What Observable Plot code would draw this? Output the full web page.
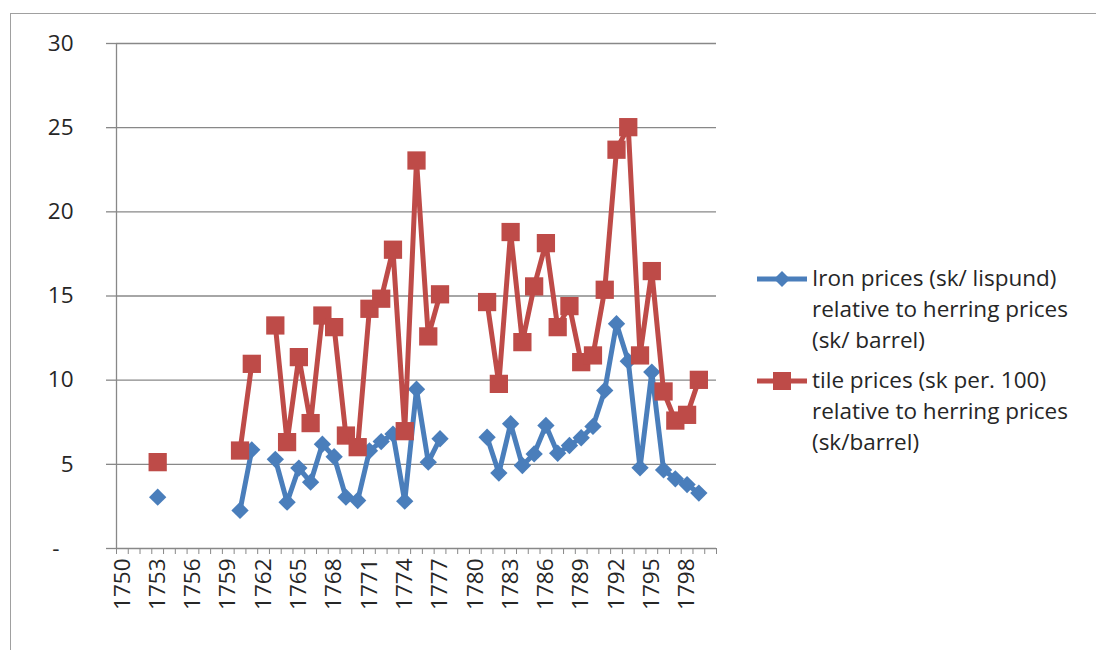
<!DOCTYPE html>
<html>
<head>
<meta charset="utf-8">
<script src="https://cdn.jsdelivr.net/npm/d3@7"></script>
<script src="https://cdn.jsdelivr.net/npm/@observablehq/plot@0.6"></script>
<style>
  body { margin: 0; background: #fff; font-family: "Open Sans", Lato, sans-serif; }
  #frame { position: absolute; left: 10px; top: 13px; width: 1100px; height: 700px;
           border-top: 1px solid #a0a0a0; border-left: 1px solid #a0a0a0; }
  #chart { position: absolute; left: 0; top: 0; }
  #legend { position: absolute; left: 757px; top: 262px; font-size: 22.5px; color: #262626; line-height: 31px; }
  .item { display: flex; align-items: flex-start; margin-bottom: 9px; }
  .item svg { flex: none; }
</style>
</head>
<body>
<div id="frame"></div>
<div id="chart"></div>
<div id="legend"></div>
<script>
const years = d3.range(1750, 1801);
const labelYears = [1750,1753,1756,1759,1762,1765,1768,1771,1774,1777,1780,1783,1786,1789,1792,1795,1798];
const yTicks = [0, 5, 10, 15, 20, 25, 30];
const legendLines = [
  ["Iron prices (sk/ lispund)", "relative to herring prices", "(sk/ barrel)"],
  ["tile prices (sk per. 100)", "relative to herring prices", "(sk/barrel)"]
];
// 1750 ... 1800
const iron = [
  null, null, null, 3.05, null, null, null, null, null, null,
  2.26, 5.86, null, 5.30, 2.75, 4.78, 3.94, 6.20, 5.45, 3.05,
  2.85, 5.80, 6.35, 6.80, 2.81, 9.46, 5.13, 6.52, null, null,
  null, 6.61, 4.48, 7.41, 4.93, 5.62, 7.31, 5.66, 6.12, 6.58,
  7.25, 9.39, 13.35, 11.13, 4.79, 10.48, 4.67, 4.14, 3.80, 3.29,
  null
];
const tile = [
  null, null, null, 5.13, null, null, null, null, null, null,
  5.82, 10.97, null, 13.25, 6.32, 11.37, 7.45, 13.84, 13.15, 6.71,
  6.02, 14.24, 14.84, 17.75, 6.97, 23.05, 12.60, 15.10, null, null,
  null, 14.64, 9.78, 18.80, 12.26, 15.57, 18.14, 13.15, 14.40, 11.07,
  11.47, 15.37, 23.69, 25.03, 11.47, 16.48, 9.33, 7.60, 7.94, 10.02,
  null
];
const colors = ["#4A7EBB", "#BE4B48"];

const ironData = years.map((y, i) => ({year: y, value: iron[i]}));
const tileData = years.map((y, i) => ({year: y, value: tile[i]}));
const boundaries = years.map(y => y - 0.5).concat([years[years.length - 1] + 0.5]);

const fontStack = "'Open Sans', Lato, sans-serif";
const plot = Plot.plot({
  width: 740,
  height: 650,
  marginLeft: 116,
  marginRight: 24,
  marginTop: 43,
  marginBottom: 102,
  style: {fontFamily: fontStack, fontSize: "22.5px", color: "#262626", background: "transparent", overflow: "visible"},
  x: {type: "linear", domain: [1749.5, 1800.5]},
  y: {domain: [0, 30]},
  marks: [
    Plot.gridY(yTicks, {stroke: "#888888", strokeOpacity: 1, strokeWidth: 1.3}),
    Plot.axisY(yTicks.filter(d => d > 0), {tickSize: 10, stroke: "#888888", strokeWidth: 1.3, tickPadding: 33, tickFormat: d => String(d), fill: "#262626", label: null}),
    Plot.axisY([0], {tickSize: 10, stroke: "#888888", strokeWidth: 1.3, tickPadding: 47, tickFormat: () => "-", fill: "#262626", label: null}),
    Plot.ruleX([1749.5], {stroke: "#888888", strokeWidth: 1.3}),
    Plot.axisX(boundaries, {tickSize: 6, stroke: "#888888", tickFormat: () => "", label: null}),
    Plot.axisX(labelYears, {tickSize: 0, tickRotate: -90, tickPadding: 10, tickFormat: d => String(d), label: null, fill: "#262626"}),
    Plot.line(ironData, {x: "year", y: "value", stroke: colors[0], strokeWidth: 5, strokeLinejoin: "round"}),
    Plot.dot(ironData.filter(d => d.value != null), {x: "year", y: "value", symbol: "diamond2", r: 7.8, fill: colors[0], stroke: "none"}),
    Plot.line(tileData, {x: "year", y: "value", stroke: colors[1], strokeWidth: 5, strokeLinejoin: "round"}),
    Plot.dot(tileData.filter(d => d.value != null), {x: "year", y: "value", symbol: "square", r: 10.3, fill: colors[1], stroke: "none"})
  ]
});
document.getElementById("chart").appendChild(plot);

const legend = document.getElementById("legend");
legendLines.forEach((lines, k) => {
  const item = document.createElement("div");
  item.className = "item";
  const marker = k === 0
    ? `<path d="M17 17 L25 9 L33 17 L25 25 Z" fill="${colors[0]}"/>`
    : `<rect x="16" y="8" width="18" height="18" fill="${colors[1]}"/>`;
  item.innerHTML = `<svg width="55" height="32"><line x1="0" x2="50" y1="17" y2="17" stroke="${colors[k]}" stroke-width="5"/>${marker}</svg><div>${lines.join("<br>")}</div>`;
  legend.appendChild(item);
});
</script>
</body>
</html>
